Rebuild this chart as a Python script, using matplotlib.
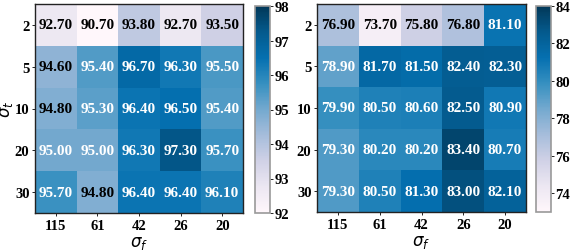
import numpy as np
import matplotlib
matplotlib.use("Agg")
import matplotlib.pyplot as plt
from matplotlib import colors

plt.rcParams["font.family"] = ["Liberation Serif", "DejaVu Serif"]
plt.rcParams["mathtext.fontset"] = "dejavusans"

# ─── DATA ─────────────────────────────────────────────────────────────────────
sigma_f = ["115", "61", "42", "26", "20"]
sigma_t = ["2", "5", "10", "20", "30"]

acc_left = np.array([
    [92.70, 90.70, 93.80, 92.70, 93.50],
    [94.60, 95.40, 96.70, 96.30, 95.50],
    [94.80, 95.30, 96.40, 96.50, 95.40],
    [95.00, 95.00, 96.30, 97.30, 95.70],
    [95.70, 94.80, 96.40, 96.40, 96.10],
])
acc_right = np.array([
    [76.90, 73.70, 75.80, 76.80, 81.10],
    [78.90, 81.70, 81.50, 82.40, 82.30],
    [79.90, 80.50, 80.60, 82.50, 80.90],
    [79.30, 80.20, 80.20, 83.40, 80.70],
    [79.30, 80.50, 81.30, 83.00, 82.10],
])
left_range = (92, 98)
right_range = (73, 84)
left_ticks = [92, 93, 94, 95, 96, 97, 98]
right_ticks = [74, 76, 78, 80, 82, 84]
# ──────────────────────────────────────────────────────────────────────────────


def draw(fig, ax_rect, cax_rect, data, vrange, ticks, show_ylabel):
    ax = fig.add_axes(ax_rect)
    cax = fig.add_axes(cax_rect)
    cmap = plt.get_cmap("PuBu")
    norm = colors.Normalize(vmin=vrange[0], vmax=vrange[1])
    im = ax.imshow(data, cmap=cmap, norm=norm, aspect="auto")

    for i in range(data.shape[0]):
        for j in range(data.shape[1]):
            col = "black" if norm(data[i, j]) < 0.49 else "white"
            ax.text(j, i, f"{data[i, j]:.2f}", ha="center", va="center",
                    color=col, fontsize=11, fontweight="bold")

    ax.set_xticks(range(len(sigma_f)))
    ax.set_xticklabels(sigma_f, fontsize=10.5, fontweight="bold")
    ax.set_yticks(range(len(sigma_t)))
    ax.set_yticklabels(sigma_t, fontsize=10.5, fontweight="bold")
    ax.tick_params(length=2, width=0.6, pad=2)
    ax.set_xlabel(r"$\sigma_f$", fontsize=12)
    ax.xaxis.set_label_coords(0.5, -0.1)
    if show_ylabel:
        ax.set_ylabel(r"$\sigma_t$", fontsize=12)
        ax.yaxis.set_label_coords(-0.098, 0.5)
    for s in ax.spines.values():
        s.set_linewidth(1.0)
        s.set_color("#222222")

    cb = fig.colorbar(im, cax=cax, ticks=ticks)
    cb.outline.set_edgecolor("#999999")
    cb.outline.set_linewidth(1.2)
    cax.tick_params(length=2, width=0.6, pad=1, labelsize=10.5)
    for lab in cax.get_yticklabels():
        lab.set_fontweight("bold")
    return ax


fig = plt.figure(figsize=(5.7, 2.51), dpi=100)
draw(fig, [35 / 570, 37 / 251, 208 / 570, 209 / 251],
     [255 / 570, 37 / 251, 15 / 570, 207 / 251],
     acc_left, left_range, left_ticks, True)
draw(fig, [317 / 570, 38 / 251, 209 / 570, 208 / 251],
     [536 / 570, 38 / 251, 15 / 570, 206 / 251],
     acc_right, right_range, right_ticks, False)

fig.savefig("out.png", dpi=100)
